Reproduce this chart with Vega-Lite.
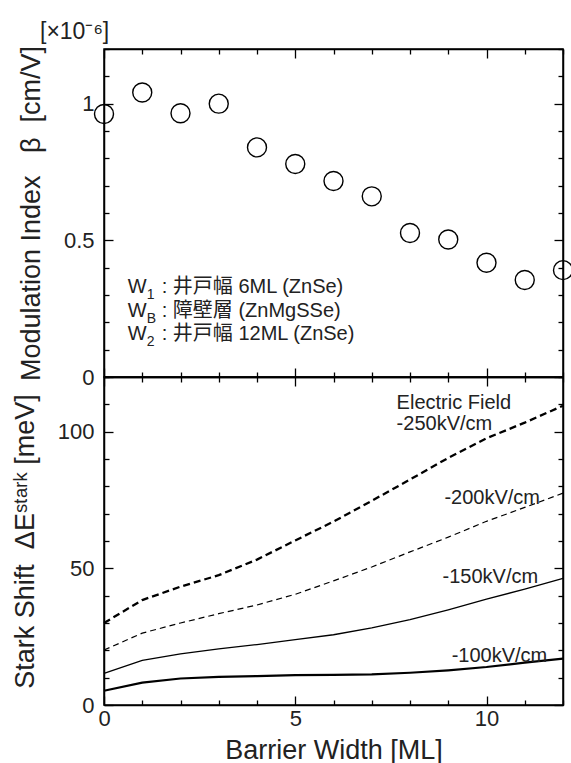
{
  "$schema": "https://vega.github.io/schema/vega-lite/v6.json",
  "padding": {"left": 10, "top": 20, "right": 0, "bottom": 0},
  "background": "white",
  "spacing": 0,
  "bounds": "flush",
  "config": {
    "font": "Liberation Sans, Noto Sans CJK JP, sans-serif",
    "view": {"stroke": "black", "strokeWidth": 1.5},
    "axis": {
      "grid": false,
      "domainColor": "black",
      "domainWidth": 1.5,
      "tickColor": "black",
      "tickWidth": 1.3,
      "labelColor": "#222",
      "labelFontSize": 22,
      "titleFontSize": 27,
      "titleFontWeight": "normal",
      "titleColor": "#222",
      "labelFlush": false,
      "labelOverlap": false
    }
  },
  "datasets": {
    "beta": [
      {"bw": 0, "beta": 0.962}, {"bw": 1, "beta": 1.041}, {"bw": 2, "beta": 0.965},
      {"bw": 3, "beta": 1.0}, {"bw": 4, "beta": 0.84}, {"bw": 5, "beta": 0.779},
      {"bw": 6, "beta": 0.717}, {"bw": 7, "beta": 0.661}, {"bw": 8, "beta": 0.527},
      {"bw": 9, "beta": 0.503}, {"bw": 10, "beta": 0.418}, {"bw": 11, "beta": 0.355},
      {"bw": 12, "beta": 0.391}
    ],
    "stark": [
      {"bw": 0, "f": "-250", "E": 30.0}, {"bw": 1, "f": "-250", "E": 38.4}, {"bw": 2, "f": "-250", "E": 43.3},
      {"bw": 3, "f": "-250", "E": 47.5}, {"bw": 4, "f": "-250", "E": 53.2}, {"bw": 5, "f": "-250", "E": 60.2},
      {"bw": 6, "f": "-250", "E": 67.1}, {"bw": 7, "f": "-250", "E": 74.7}, {"bw": 8, "f": "-250", "E": 82.5},
      {"bw": 9, "f": "-250", "E": 90.4}, {"bw": 10, "f": "-250", "E": 97.6}, {"bw": 11, "f": "-250", "E": 103.3},
      {"bw": 12, "f": "-250", "E": 109.5},
      {"bw": 0, "f": "-200", "E": 20.1}, {"bw": 1, "f": "-200", "E": 26.3}, {"bw": 2, "f": "-200", "E": 30.0},
      {"bw": 3, "f": "-200", "E": 33.4}, {"bw": 4, "f": "-200", "E": 36.6}, {"bw": 5, "f": "-200", "E": 40.5},
      {"bw": 6, "f": "-200", "E": 45.4}, {"bw": 7, "f": "-200", "E": 50.5}, {"bw": 8, "f": "-200", "E": 56.0},
      {"bw": 9, "f": "-200", "E": 61.4}, {"bw": 10, "f": "-200", "E": 67.2}, {"bw": 11, "f": "-200", "E": 72.3},
      {"bw": 12, "f": "-200", "E": 77.5},
      {"bw": 0, "f": "-150", "E": 11.6}, {"bw": 1, "f": "-150", "E": 16.3}, {"bw": 2, "f": "-150", "E": 18.7},
      {"bw": 3, "f": "-150", "E": 20.5}, {"bw": 4, "f": "-150", "E": 22.1}, {"bw": 5, "f": "-150", "E": 23.9},
      {"bw": 6, "f": "-150", "E": 25.7}, {"bw": 7, "f": "-150", "E": 28.2}, {"bw": 8, "f": "-150", "E": 31.2},
      {"bw": 9, "f": "-150", "E": 34.8}, {"bw": 10, "f": "-150", "E": 38.7}, {"bw": 11, "f": "-150", "E": 42.4},
      {"bw": 12, "f": "-150", "E": 46.3},
      {"bw": 0, "f": "-100", "E": 5.2}, {"bw": 1, "f": "-100", "E": 8.2}, {"bw": 2, "f": "-100", "E": 9.7},
      {"bw": 3, "f": "-100", "E": 10.3}, {"bw": 4, "f": "-100", "E": 10.6}, {"bw": 5, "f": "-100", "E": 10.9},
      {"bw": 6, "f": "-100", "E": 11.0}, {"bw": 7, "f": "-100", "E": 11.2}, {"bw": 8, "f": "-100", "E": 11.8},
      {"bw": 9, "f": "-100", "E": 12.7}, {"bw": 10, "f": "-100", "E": 13.9}, {"bw": 11, "f": "-100", "E": 15.5},
      {"bw": 12, "f": "-100", "E": 17.0}
    ],
    "linelabels": [
      {"bw": 7.65, "E": 110.6, "t": "Electric Field"},
      {"bw": 7.65, "E": 102.9, "t": "-250kV/cm"},
      {"bw": 8.9, "E": 75.8, "t": "-200kV/cm"},
      {"bw": 8.85, "E": 46.9, "t": "-150kV/cm"},
      {"bw": 9.09, "E": 18.0, "t": "-100kV/cm"}
    ],
    "wmain": [
      {"bw": 0.62, "beta": 0.328, "t": "W"},
      {"bw": 0.62, "beta": 0.243, "t": "W"},
      {"bw": 0.62, "beta": 0.157, "t": "W"}
    ],
    "wsub": [
      {"bw": 1.12, "beta": 0.328, "t": "1"},
      {"bw": 1.12, "beta": 0.243, "t": "B"},
      {"bw": 1.12, "beta": 0.157, "t": "2"}
    ],
    "wrest": [
      {"bw": 1.51, "beta": 0.328, "t": ": 井戸幅 6ML (ZnSe)"},
      {"bw": 1.51, "beta": 0.243, "t": ": 障壁層 (ZnMgSSe)"},
      {"bw": 1.51, "beta": 0.157, "t": ": 井戸幅 12ML (ZnSe)"}
    ]
  },
  "vconcat": [
    {
      "width": 459,
      "height": 328,
      "title": {"text": "[×10⁻⁶]", "anchor": "start", "frame": "group", "dx": -64, "offset": -6, "fontSize": 23, "fontWeight": "normal", "color": "#222"},
      "layer": [
        {
          "data": {"name": "beta"},
          "mark": {"type": "point", "shape": "circle", "size": 361, "filled": false, "stroke": "black", "strokeWidth": 1.4, "opacity": 1, "clip": false},
          "encoding": {
            "x": {"field": "bw", "type": "quantitative", "scale": {"domain": [0, 12], "nice": false},
              "axis": {"orient": "bottom", "title": null, "labels": false,
                "values": [0,1,2,3,4,5,6,7,8,9,10,11,12],
                "tickSize": {"condition": {"test": "datum.value % 5 == 0", "value": -9}, "value": -5}}},
            "y": {"field": "beta", "type": "quantitative", "scale": {"domain": [0, 1.2], "nice": false},
              "axis": {"orient": "left", "title": "Modulation Index\u00a0\u00a0\u00a0β\u00a0\u00a0[cm/V]", "titlePadding": 18,
                "values": [0,0.1,0.2,0.3,0.4,0.5,0.6,0.7,0.8,0.9,1.0,1.1,1.2],
                "labelExpr": "round(datum.value*10)==0 ? '0' : (round(datum.value*10)==5 ? '0.5' : (round(datum.value*10)==10 ? '1' : ''))",
                "labelPadding": 19,
                "tickSize": {"condition": {"test": "round(datum.value*10) % 5 == 0", "value": -9}, "value": -5}}}
          }
        },
        {
          "data": {"name": "wmain"},
          "mark": {"type": "text", "align": "left", "baseline": "middle", "fontSize": 20, "color": "#222"},
          "encoding": {
            "x": {"field": "bw", "type": "quantitative", "axis": null},
            "y": {"field": "beta", "type": "quantitative", "axis": null},
            "text": {"field": "t"}
          }
        },
        {
          "data": {"name": "wsub"},
          "mark": {"type": "text", "align": "left", "baseline": "middle", "fontSize": 14, "dy": 8, "color": "#222"},
          "encoding": {
            "x": {"field": "bw", "type": "quantitative", "axis": null},
            "y": {"field": "beta", "type": "quantitative", "axis": null},
            "text": {"field": "t"}
          }
        },
        {
          "data": {"name": "wrest"},
          "mark": {"type": "text", "align": "left", "baseline": "middle", "fontSize": 20, "color": "#222"},
          "encoding": {
            "x": {"field": "bw", "type": "quantitative", "axis": null},
            "y": {"field": "beta", "type": "quantitative", "axis": null},
            "text": {"field": "t"}
          }
        },
        {
          "data": {"name": "beta"},
          "mark": {"type": "point", "opacity": 0},
          "encoding": {
            "x": {"field": "bw", "type": "quantitative",
              "axis": {"orient": "top", "title": null, "labels": false,
                "values": [0,1,2,3,4,5,6,7,8,9,10,11,12],
                "tickSize": {"condition": {"test": "datum.value % 5 == 0", "value": -9}, "value": -5}}},
            "y": {"field": "beta", "type": "quantitative",
              "axis": {"orient": "right", "title": null, "labels": false,
                "values": [0,0.1,0.2,0.3,0.4,0.5,0.6,0.7,0.8,0.9,1.0,1.1,1.2],
                "tickSize": {"condition": {"test": "round(datum.value*10) % 5 == 0", "value": -9}, "value": -5}}}
          }
        }
      ],
      "resolve": {"axis": {"x": "independent", "y": "independent"}}
    },
    {
      "width": 459,
      "height": 328,
      "layer": [
        {
          "data": {"name": "stark"},
          "transform": [{"filter": "datum.f == '-250'"}],
          "mark": {"type": "line", "color": "black", "strokeWidth": 2.3, "strokeDash": [7, 4]},
          "encoding": {
            "x": {"field": "bw", "type": "quantitative", "scale": {"domain": [0, 12], "nice": false},
              "axis": {"orient": "bottom", "title": "Barrier Width [ML]", "titlePadding": 4,
                "values": [0,1,2,3,4,5,6,7,8,9,10,11,12],
                "labelExpr": "datum.value % 5 == 0 ? datum.label : ''",
                "labelPadding": 12,
                "tickSize": {"condition": {"test": "datum.value % 5 == 0", "value": -9}, "value": -5}}},
            "y": {"field": "E", "type": "quantitative", "scale": {"domain": [0, 120], "nice": false},
              "axis": {"orient": "left", "title": "Stark Shift\u00a0\u00a0ΔEˢᵗᵃʳᵏ [meV]", "titlePadding": 18,
                "values": [0,10,20,30,40,50,60,70,80,90,100,110,120],
                "labelExpr": "datum.value % 50 == 0 && datum.value < 120 ? datum.label : ''",
                "labelPadding": 19,
                "tickSize": {"condition": {"test": "datum.value % 50 == 0", "value": -9}, "value": -5}}}
          }
        },
        {
          "data": {"name": "stark"},
          "transform": [{"filter": "datum.f == '-200'"}],
          "mark": {"type": "line", "color": "black", "strokeWidth": 1.2, "strokeDash": [6, 4]},
          "encoding": {
            "x": {"field": "bw", "type": "quantitative", "axis": null},
            "y": {"field": "E", "type": "quantitative", "axis": null}
          }
        },
        {
          "data": {"name": "stark"},
          "transform": [{"filter": "datum.f == '-150'"}],
          "mark": {"type": "line", "color": "black", "strokeWidth": 1.3},
          "encoding": {
            "x": {"field": "bw", "type": "quantitative", "axis": null},
            "y": {"field": "E", "type": "quantitative", "axis": null}
          }
        },
        {
          "data": {"name": "stark"},
          "transform": [{"filter": "datum.f == '-100'"}],
          "mark": {"type": "line", "color": "black", "strokeWidth": 2.2},
          "encoding": {
            "x": {"field": "bw", "type": "quantitative", "axis": null},
            "y": {"field": "E", "type": "quantitative", "axis": null}
          }
        },
        {
          "data": {"name": "linelabels"},
          "mark": {"type": "text", "align": "left", "baseline": "middle", "fontSize": 20, "color": "#222"},
          "encoding": {
            "x": {"field": "bw", "type": "quantitative", "axis": null},
            "y": {"field": "E", "type": "quantitative", "axis": null},
            "text": {"field": "t"}
          }
        },
        {
          "data": {"name": "stark"},
          "mark": {"type": "point", "opacity": 0},
          "encoding": {
            "x": {"field": "bw", "type": "quantitative",
              "axis": {"orient": "top", "title": null, "labels": false,
                "values": [0,1,2,3,4,5,6,7,8,9,10,11,12],
                "tickSize": {"condition": {"test": "datum.value % 5 == 0", "value": -9}, "value": -5}}},
            "y": {"field": "E", "type": "quantitative",
              "axis": {"orient": "right", "title": null, "labels": false,
                "values": [0,10,20,30,40,50,60,70,80,90,100,110,120],
                "tickSize": {"condition": {"test": "datum.value % 50 == 0", "value": -9}, "value": -5}}}
          }
        }
      ],
      "resolve": {"axis": {"x": "independent", "y": "independent"}}
    }
  ]
}
